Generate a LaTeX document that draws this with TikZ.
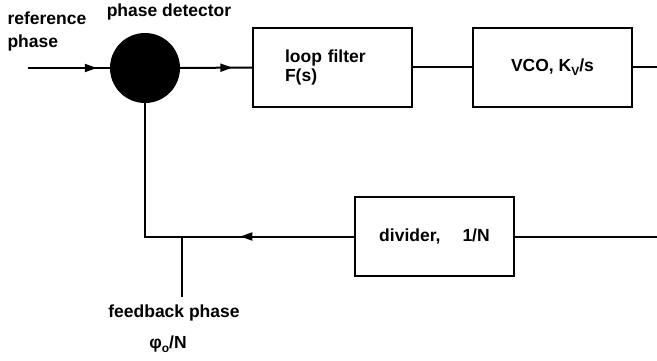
\documentclass[tikz,border=0pt]{standalone}
\usepackage{fontspec}
\setmainfont{Liberation Sans}
\usetikzlibrary{arrows.meta,decorations.markings}
\newcommand{\lowsub}[1]{\raisebox{-4pt}{\fontsize{12}{12}\selectfont #1}}
\begin{document}
\begin{tikzpicture}[x=1pt,y=-1pt,
  font=\bfseries\fontsize{17.5}{19}\selectfont,
  box/.style={draw, line width=1.3pt, minimum width=159pt, minimum height=79pt, inner sep=0pt},
  conn/.style={line width=2pt},
  midarrow/.style={postaction={decorate}, decoration={markings, mark=at position #1 with {\arrow{Triangle[length=12pt,width=8pt]}}}}]
\useasboundingbox (0,0) rectangle (657,361);
% blocks
\node[circle, fill=black, minimum size=70pt, inner sep=0pt] (pd) at (145,68) {};
\node[box, text width=95pt, inner xsep=32pt, align=left] (lf) at (332.5,67.5) {loop filter\\F(s)};
\node[box] (vco) at (552.5,67.5) {VCO, K\lowsub{V}/s};
\node[box] (div) at (434.5,236.5) {divider,\hspace{22pt}1/N\hspace{17pt}};
% free ends
\coordinate (refin) at (28,68);
\coordinate (vcoout) at (657,67.5);
\coordinate (divin) at (657,236.5);
\coordinate (corner) at (145,236.5);
\coordinate (tap) at (182,236.5);
\coordinate (tapend) at (182,297);
% connectors
\draw[conn, midarrow=-13pt] (refin) -- (pd.west);
\draw[conn, midarrow=-20pt] (pd.east) -- (lf.west);
\draw[conn] (lf.east) -- (vco.west);
\draw[conn] (vco.east) -- (vcoout);
\draw[conn] (divin) -- (div.east);
\draw[conn, midarrow=114pt] (div.west) -- (corner) -- (pd.south);
\draw[conn] (tap) -- (tapend);
% labels
\node[align=left, anchor=west] (reflabel) at (4,31.5) {reference\\[4pt]phase};
\node (pdlabel) at (169,12) {phase detector};
\node (fblabel) at (174,313) {feedback phase};
\node (philabel) at (168,344) {φ\lowsub{o}/N};
\end{tikzpicture}
\end{document}
